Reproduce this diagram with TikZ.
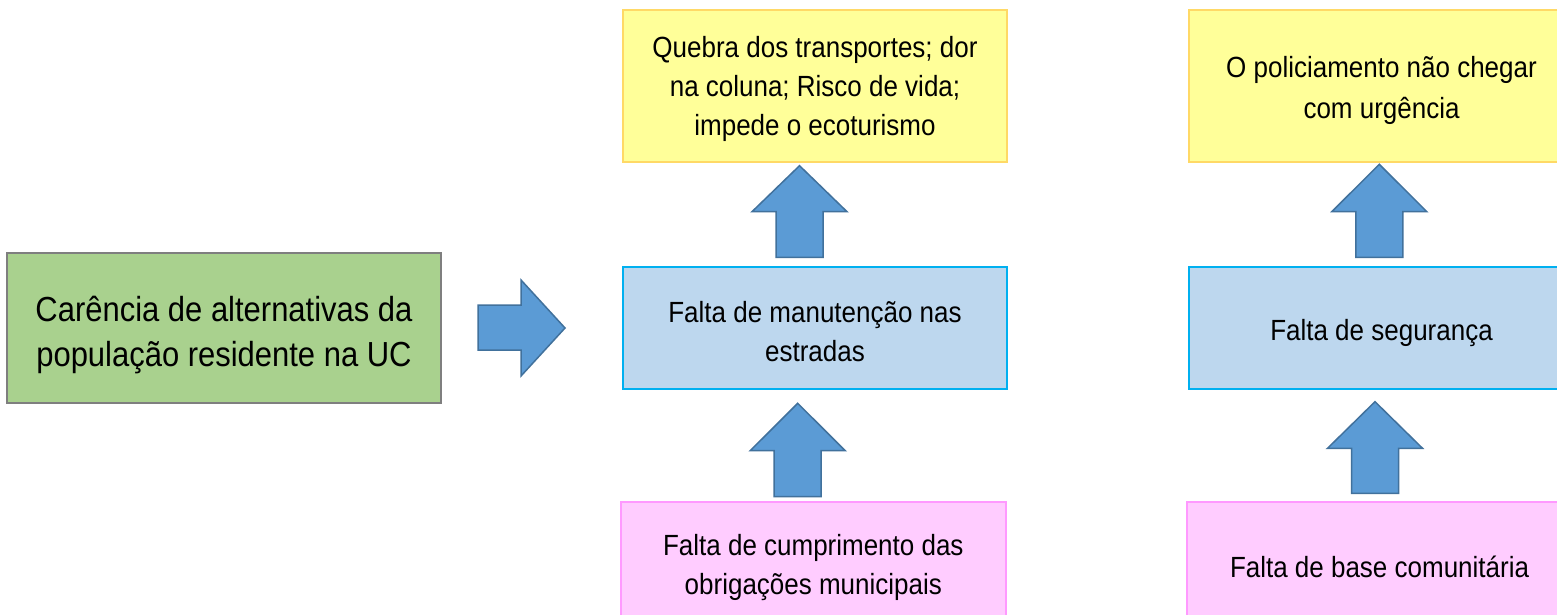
\documentclass[tikz,border=0pt]{standalone}
\usepackage{fontspec}
\setmainfont{Liberation Sans}
\newfontfamily\boxfont[FakeStretch=0.89]{Liberation Sans}
\definecolor{gfill}{HTML}{A9D18E}
\definecolor{gline}{HTML}{7F7F7F}
\definecolor{yfill}{HTML}{FFFF99}
\definecolor{yline}{HTML}{FFD966}
\definecolor{bfill}{HTML}{BDD7EE}
\definecolor{bline}{HTML}{00B0F0}
\definecolor{pfill}{HTML}{FFCCFF}
\definecolor{pline}{HTML}{FF99FF}
\definecolor{afill}{HTML}{5B9BD5}
\definecolor{aline}{HTML}{41719C}
\newcommand\myuparrow[4]{%
  \draw[blockarrow] ({#1-23.5},#4) -- ({#1-23.5},#3) -- ({#1-47.5},#3) -- (#1,#2)
    -- ({#1+47.5},#3) -- ({#1+23.5},#3) -- ({#1+23.5},#4) -- cycle;}
\tikzset{
  box/.style={rectangle, line width=2pt, inner sep=0pt},
  boxtext/.style={inner sep=0pt, align=center, font=\boxfont\fontsize{29.2}{39}\selectfont},
  greentext/.style={boxtext, font=\boxfont\fontsize{34.8}{45}\selectfont},
  greenbox/.style={box, fill=gfill, draw=gline, minimum width=434pt, minimum height=150pt},
  yellowbox/.style={box, fill=yfill, draw=yline, minimum width=384.6pt, minimum height=152pt},
  bluebox/.style={box, fill=bfill, draw=bline, minimum width=384.6pt, minimum height=122.6pt},
  pinkbox/.style={box, fill=pfill, draw=pline, minimum width=384.6pt, minimum height=126pt},
  blockarrow/.style={fill=afill, draw=aline, line width=1.5pt, line join=miter}
}
\begin{document}
\begin{tikzpicture}[x=1pt,y=-1pt]
\useasboundingbox (0,0) rectangle (1557,615);
\clip (0,0) rectangle (1557,615);
\fill[white] (0,0) rectangle (1557,615);
\node[greenbox] (green) at (224,328) {};
\node[yellowbox] (y1) at (815,86) {};
\node[bluebox] (b1) at (815,328) {};
\node[pinkbox] (p1) at (813.3,565) {};
\node[yellowbox] (y2) at (1381.5,86) {};
\node[bluebox] (b2) at (1381.5,328) {};
\node[pinkbox] (p2) at (1379.5,565) {};
\node[greentext] (greent) at ([yshift=-7pt]green.center) {Carência de alternativas da\\população residente na UC};
\node[boxtext] (y1t) at ([yshift=-3pt]y1.center) {Quebra dos transportes; dor\\na coluna; Risco de vida;\\impede o ecoturismo};
\node[boxtext] (b1t) at ([yshift=-4pt]b1.center) {Falta de manutenção nas\\estradas};
\node[boxtext] (p1t) at ([yshift=-3pt]p1.center) {Falta de cumprimento das\\obrigações municipais};
\node[boxtext, font=\boxfont\fontsize{29.2}{41}\selectfont] (y2t) at ([yshift=-4pt]y2.center) {O policiamento não chegar\\com urgência};
\node[boxtext] (b2t) at ([yshift=-5pt]b2.center) {Falta de segurança};
\node[boxtext] (p2t) at ([yshift=-2pt]p2.center) {Falta de base comunitária};
% right arrow
\draw[blockarrow] (478,305) -- (521,305) -- (521,280) -- (565,328) -- (521,376)
  -- (521,350) -- (478,350) -- cycle;
% up arrows
\myuparrow{799.5}{165.7}{211.7}{257.3}
\myuparrow{797.7}{403.3}{450.7}{496.7}
\myuparrow{1379.3}{164.3}{211.7}{257.3}
\myuparrow{1375}{401.7}{448.3}{493.3}
\end{tikzpicture}
\end{document}
